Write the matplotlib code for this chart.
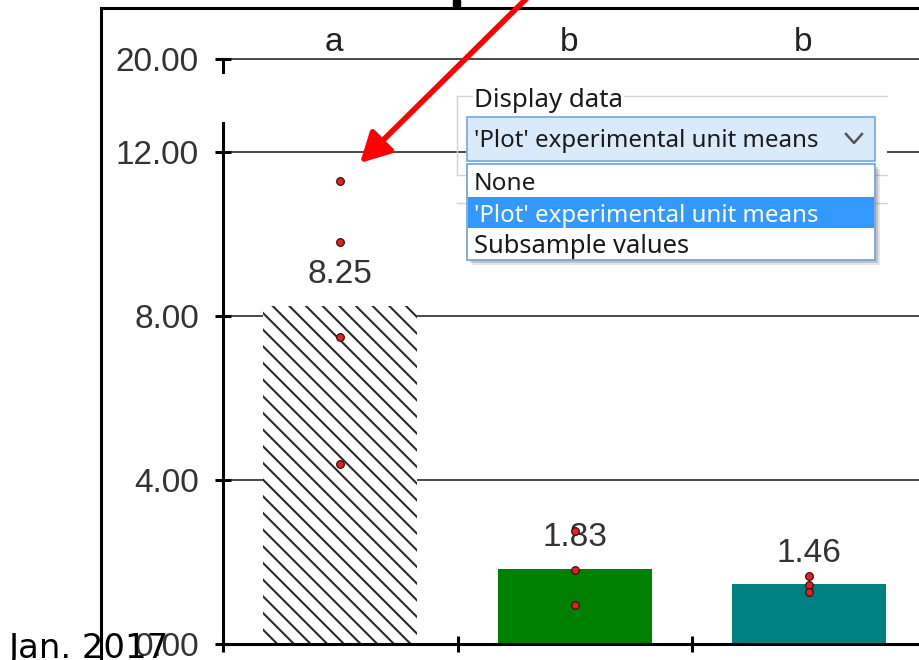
import matplotlib
matplotlib.use("Agg")
import matplotlib.pyplot as plt
from matplotlib.patches import Rectangle, FancyArrowPatch
from matplotlib.lines import Line2D

# --- data ---
groups = [0, 1, 2]
letters = ["a", "b", "b"]
means = [8.25, 1.83, 1.46]
mean_labels = ["8.25", "1.83", "1.46"]
unit_means = [
    [11.3, 9.8, 7.5, 4.4],
    [2.75, 1.80, 0.94],
    [1.66, 1.44, 1.28],
]
bar_colors = ["white", "#008000", "#008080"]
bar_hatches = ["\\\\", "", ""]
lower_ticks = [0, 4, 8, 12]
upper_ticks = [20]
menu_title = "Display data"
menu_items = ["None", "'Plot' experimental unit means", "Subsample values"]
menu_sizes = [17.6, 17.3, 18.4]
selected = 1

W, H = 919, 660
K = 41.0       # pixels per y unit
XU = 234.5     # pixels per bar slot

plt.rcParams["hatch.linewidth"] = 1.5
plt.rcParams["font.family"] = ["Liberation Sans", "DejaVu Sans"]


def fx(x):
    return x / W


def fy(y):
    return 1 - y / H


fig = plt.figure(figsize=(W / 100, H / 100), dpi=100)

# lower part of the broken axis (0 .. 12)
ax = fig.add_axes([fx(223), fy(644), fx(919) - fx(223), fy(123) - fy(644)])
ax.set_xlim(-0.5, -0.5 + 696 / XU)
ax.set_ylim(0, (644 - 123) / K)

bars = ax.bar(groups, means, width=0.657, color=bar_colors, linewidth=0,
              edgecolor="#2a2a2a")
for p, h in zip(bars.patches, bar_hatches):
    p.set_hatch(h)

for i, vals in zip(groups, unit_means):
    ax.plot([i] * len(vals), vals, "o", ms=5.5, mfc="#dc2424", mec="#4a0a0a",
            mew=0.9, zorder=4, clip_on=False)

for i, m, lbl in zip(groups, means, mean_labels):
    ax.annotate(lbl, (i, m), xytext=(0, 31), textcoords="offset pixels",
                ha="center", va="center", fontsize=24, color="#333333")

ax.set_yticks(lower_ticks, labels=[f"{t:.2f}" for t in lower_ticks])
ax.yaxis.grid(True, color="#3a3a3a", lw=1.3)
ax.set_axisbelow(True)
ax.set_xticks([-0.5, 0.5, 1.5], labels=[])
ax.tick_params(axis="y", direction="inout", length=11, width=2.2,
               labelsize=24, labelcolor="#333333", pad=11.8)
ax.tick_params(axis="x", direction="inout", length=11, width=2.2)
for s in ["top", "right"]:
    ax.spines[s].set_visible(False)
for s in ["left", "bottom"]:
    ax.spines[s].set_linewidth(2.2)

# upper part of the broken axis (20)
ax_top = fig.add_axes([fx(223), fy(72), fx(919) - fx(223), fy(50) - fy(72)])
ax_top.set_xlim(ax.get_xlim())
ylo = 20 - (72 - 59) / K
ax_top.set_ylim(ylo, 20 + (59 - 50) / K)
ax_top.patch.set_visible(False)
ax_top.set_yticks(upper_ticks, labels=[f"{t:.2f}" for t in upper_ticks])
ax_top.yaxis.grid(True, color="#3a3a3a", lw=1.3)
ax_top.set_xticks([])
ax_top.tick_params(axis="y", direction="inout", length=11, width=2.2,
                   labelsize=24, labelcolor="#333333", pad=11.8)
for s in ["top", "right", "bottom"]:
    ax_top.spines[s].set_visible(False)
ax_top.spines["left"].set_linewidth(2.2)
ax_top.spines["left"].set_bounds(ylo, 20)

# significance letters above the bars
for i, let in zip(groups, letters):
    ax.annotate(let, xy=(i, fy(51)), xycoords=(ax.transData, fig.transFigure),
                xytext=(-6, 0), textcoords="offset pixels", ha="center",
                va="baseline", fontsize=24, color="#222222")

# surrounding slide frame
fig.add_artist(Line2D([fx(101), fx(101)], [fy(8), 0], color="black", lw=2.2))
fig.add_artist(Line2D([fx(101), 1], [fy(8), fy(8)], color="black", lw=2.2))
fig.add_artist(Rectangle((fx(453), fy(7)), 7 / W, 7 / H, color="black",
                         transform=fig.transFigure))

# red arrow
fig.add_artist(FancyArrowPatch((fx(527), fy(-2)), (fx(360), fy(163)),
                               transform=fig.transFigure,
                               arrowstyle="-|>,head_length=0.45,head_width=0.24",
                               mutation_scale=40, color="#ff0000", lw=4.0,
                               shrinkA=0, shrinkB=0, zorder=8))

# "Display data" group box and dropdown
ui_font = ["Noto Sans", "DejaVu Sans"]
gb = "#d4d4d4"
fig.add_artist(Rectangle((fx(466), fy(175)), 421 / W, 79 / H, fc="white",
                         ec="none", transform=fig.transFigure, zorder=10))
for yy in [96, 175, 203]:
    fig.add_artist(Line2D([fx(457), fx(887)], [fy(yy), fy(yy)], color=gb,
                          lw=1.0, zorder=11))
fig.add_artist(Line2D([fx(457), fx(457)], [fy(96), fy(175)], color=gb,
                      lw=1.0, zorder=11))
fig.text(fx(474), fy(107), menu_title, fontsize=18.6, family=ui_font,
         color="#1a1a1a", va="baseline", ha="left", zorder=12,
         bbox=dict(fc="white", ec="none", pad=1))

# combo box
fig.add_artist(Rectangle((fx(467), fy(161)), 408 / W, 44 / H, fc="#d9ebfa",
                         ec="#6fa8e3", lw=1.2, transform=fig.transFigure,
                         zorder=12))
fig.text(fx(474), fy(147), menu_items[selected], fontsize=menu_sizes[selected],
         family=ui_font, color="#1a1a1a", va="baseline", ha="left", zorder=13)
fig.add_artist(Line2D([fx(846), fx(854), fx(862)], [fy(134), fy(143), fy(134)],
                      color="#555555", lw=1.8, zorder=13))

# open list with shadow
for off, a in [(5, 0.10), (3, 0.15)]:
    fig.add_artist(Rectangle((fx(467 + off), fy(260 + off)), 408 / W, 96 / H,
                             fc="black", alpha=a, ec="none",
                             transform=fig.transFigure, zorder=12))
fig.add_artist(Rectangle((fx(467), fy(260)), 408 / W, 96 / H, fc="white",
                         ec="#6f9fd8", lw=1.2, transform=fig.transFigure,
                         zorder=13))
row_top = 165
row_h = 31.5
fig.add_artist(Rectangle((fx(468), fy(row_top + (selected + 1) * row_h)),
                         406 / W, row_h / H, fc="#3399ff", ec="none",
                         transform=fig.transFigure, zorder=14))
for j, (item, sz) in enumerate(zip(menu_items, menu_sizes)):
    fig.text(fx(474), fy(row_top + (j + 1) * row_h - 6), item, fontsize=sz,
             family=ui_font, color="white" if j == selected else "#1a1a1a",
             va="baseline", ha="left", zorder=15)

# footer date
fig.text(fx(9), fy(658), "Jan. 2017", fontsize=24.4, family="DejaVu Sans",
         color="black", va="baseline", ha="left", zorder=20)

fig.savefig("out.png", dpi=100)
